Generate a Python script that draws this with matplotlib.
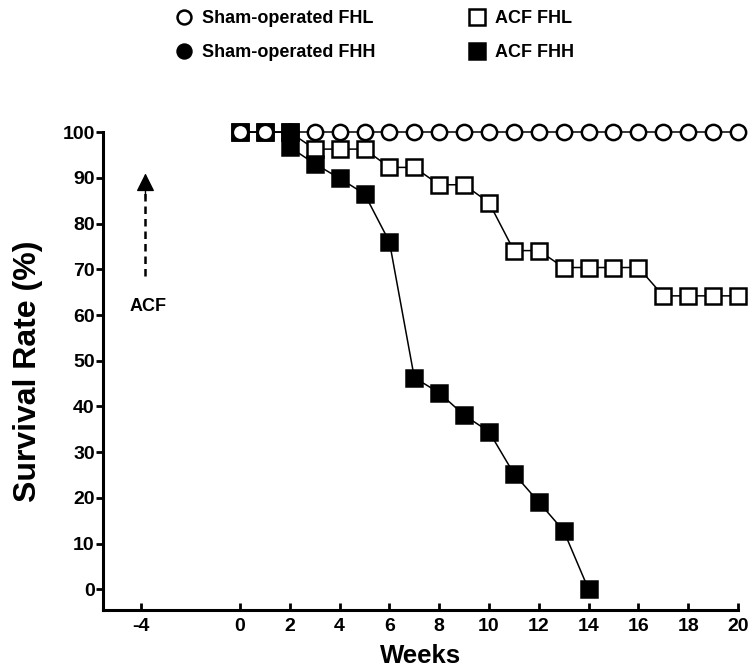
import matplotlib.pyplot as plt
from matplotlib.lines import Line2D

plt.rcParams['font.family'] = ['Liberation Sans', 'DejaVu Sans']
plt.rcParams['font.weight'] = 'bold'
plt.rcParams['axes.unicode_minus'] = False

# data
weeks = list(range(0, 21))
sham_fhl = [100] * 21

sham_fhh_weeks = [2]
sham_fhh = [100]

acf_fhl = [100, 100, 100, 96.3, 96.3, 96.3, 92.3, 92.3, 88.5, 88.5, 84.6,
           74.1, 74.1, 70.4, 70.4, 70.4, 70.4, 64.2, 64.2, 64.2, 64.2]

acf_fhh_weeks = [0, 1, 2, 2, 3, 4, 5, 6, 7, 8, 9, 10, 11, 12, 13, 14]
acf_fhh = [100, 100, 100, 96.7, 93.1, 89.9, 86.5, 76.0, 46.3, 43.0, 38.1,
           34.5, 25.3, 19.1, 12.8, 0]

xticks = [-4, 0, 2, 4, 6, 8, 10, 12, 14, 16, 18, 20]
yticks = list(range(0, 101, 10))

fig = plt.figure(figsize=(7.53, 6.71), dpi=100)
ax = fig.add_axes([0.137, 0.091, 0.843, 0.712])

ms = 11
mew = 1.8
ax.plot(weeks, acf_fhl, color='black', lw=1.1, marker='s', ms=ms,
        mfc='white', mec='black', mew=mew, clip_on=False, zorder=3)
ax.plot(acf_fhh_weeks, acf_fhh, color='black', lw=1.1, marker='s', ms=ms,
        mfc='black', mec='black', mew=mew, clip_on=False, zorder=4)
ax.plot(weeks, sham_fhl, color='black', lw=1.1, marker='o', ms=ms,
        mfc='white', mec='black', mew=mew, clip_on=False, zorder=5)
ax.plot(sham_fhh_weeks, sham_fhh, color='black', lw=1.1, marker='o', ms=ms,
        mfc='black', mec='black', mew=mew, clip_on=False, zorder=6)

# ACF arrow: dashed shaft + solid head
ax.plot([-3.8, -3.8], [68.5, 87], color='black', lw=1.8,
        linestyle=(0, (3, 2)))
ax.annotate('', xy=(-3.8, 91), xytext=(-3.8, 85.5),
            arrowprops=dict(arrowstyle='-|>', color='black', lw=1.0,
                            mutation_scale=28, shrinkA=0, shrinkB=0))
ax.text(-3.7, 61.8, 'ACF', ha='center', va='center', fontsize=13,
        fontweight='bold')

ax.set_xlim(-5.5, 20)
ax.set_ylim(-4.5, 100)
ax.set_xticks(xticks)
ax.set_yticks(yticks)
ax.tick_params(axis='x', direction='in', length=5, width=2, labelsize=14,
               pad=6)
ax.tick_params(axis='y', direction='out', length=5, width=2, labelsize=14,
               pad=1)
for s in ['top', 'right']:
    ax.spines[s].set_visible(False)
for s in ['left', 'bottom']:
    ax.spines[s].set_linewidth(2.2)

ax.set_xlabel('Weeks', fontsize=18.5, fontweight='bold', labelpad=6)
ax.set_ylabel('Survival Rate (%)', fontsize=23, fontweight='bold',
              labelpad=14)

handles = [
    Line2D([], [], ls='none', marker='o', ms=10, mfc='white', mec='black',
           mew=1.8),
    Line2D([], [], ls='none', marker='o', ms=10, mfc='black', mec='black',
           mew=1.8),
    Line2D([], [], ls='none', marker='s', ms=11, mfc='white', mec='black',
           mew=1.8),
    Line2D([], [], ls='none', marker='s', ms=11, mfc='black', mec='black',
           mew=1.8),
]
labels = ['Sham-operated FHL', 'Sham-operated FHH', 'ACF FHL', 'ACF FHH']
fig.legend(handles, labels, ncol=2, loc='upper left',
           bbox_to_anchor=(0.211, 1.009), frameon=False,
           handlelength=1.0, handletextpad=0.5, columnspacing=5.1,
           labelspacing=0.95, numpoints=1,
           prop={'weight': 'bold', 'size': 13})

fig.savefig('out.png', dpi=100)
